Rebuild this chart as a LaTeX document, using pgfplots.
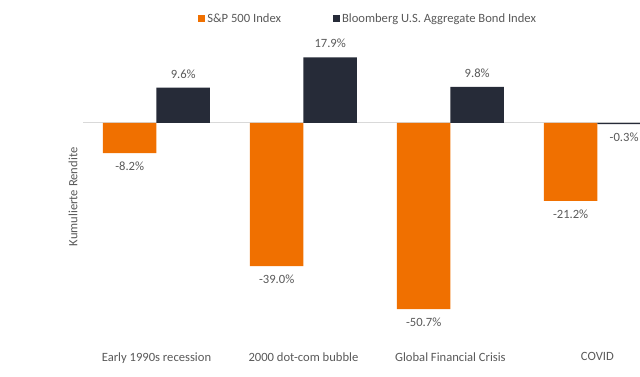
\documentclass[border=0pt]{standalone}
\usepackage{pgfplots}
\pgfplotsset{compat=1.18}
\usepackage{fontspec}
\setmainfont{Carlito}
\definecolor{sporange}{RGB}{240,112,0}
\definecolor{bbnavy}{RGB}{38,43,56}
\definecolor{txtgray}{RGB}{89,89,89}
\definecolor{zerogray}{RGB}{217,217,217}
\newcommand{\chartfont}{\fontsize{12.6}{15}\selectfont}
\begin{document}
\begin{tikzpicture}
\useasboundingbox (0pt,0pt) rectangle (640pt,376pt);
\begin{axis}[
  at={(83pt,36pt)}, anchor=south west,
  scale only axis, width=557pt, height=300pt,
  xmin=-0.5, xmax=3.29, ymin=-59.1, ymax=22.6,
  ybar=0pt, bar width=53.5pt,
  axis line style={draw=none},
  ytick=\empty,
  xtick={0,1,2,3},
  xticklabels={Early 1990s recession, 2000 dot-com bubble, Global Financial Crisis, COVID},
  major tick length=0pt,
  xticklabel style={font=\chartfont, text=txtgray, yshift=-9pt},
  ylabel={Kumulierte Rendite},
  ylabel style={at={(axis description cs:-0.018,0.477)}, anchor=center, font=\chartfont, text=txtgray},
  point meta=y,
  nodes near coords={\pgfmathprintnumber[fixed,fixed zerofill,precision=1,assume math mode=true]{\pgfplotspointmeta}\%},
  nodes near coords align={vertical},
  every node near coord/.append style={font=\chartfont, text=txtgray, inner sep=9pt},
  legend style={at={(axis description cs:0.512,1.07)}, anchor=center, draw=none, fill=none,
    legend columns=2, font=\chartfont, text=txtgray,
    /tikz/every even column/.append style={column sep=50pt}},
  legend image code/.code={\path[#1,draw=none] (0pt,-3.5pt) rectangle (7pt,3.5pt);},
]
\draw[zerogray, line width=1pt] (axis cs:-0.5,0) -- (axis cs:3.29,0);
\addplot[fill=sporange, draw=none] coordinates {
  (0,-8.2) (1,-39.0) (2,-50.7) (3,-21.2)
};
\addlegendentry{S\&P 500 Index}
\addplot[fill=bbnavy, draw=none] coordinates {
  (0,9.6) (1,17.9) (2,9.8) (3,-0.3)
};
\addlegendentry{Bloomberg U.S. Aggregate Bond Index}
\end{axis}
\end{tikzpicture}
\end{document}
